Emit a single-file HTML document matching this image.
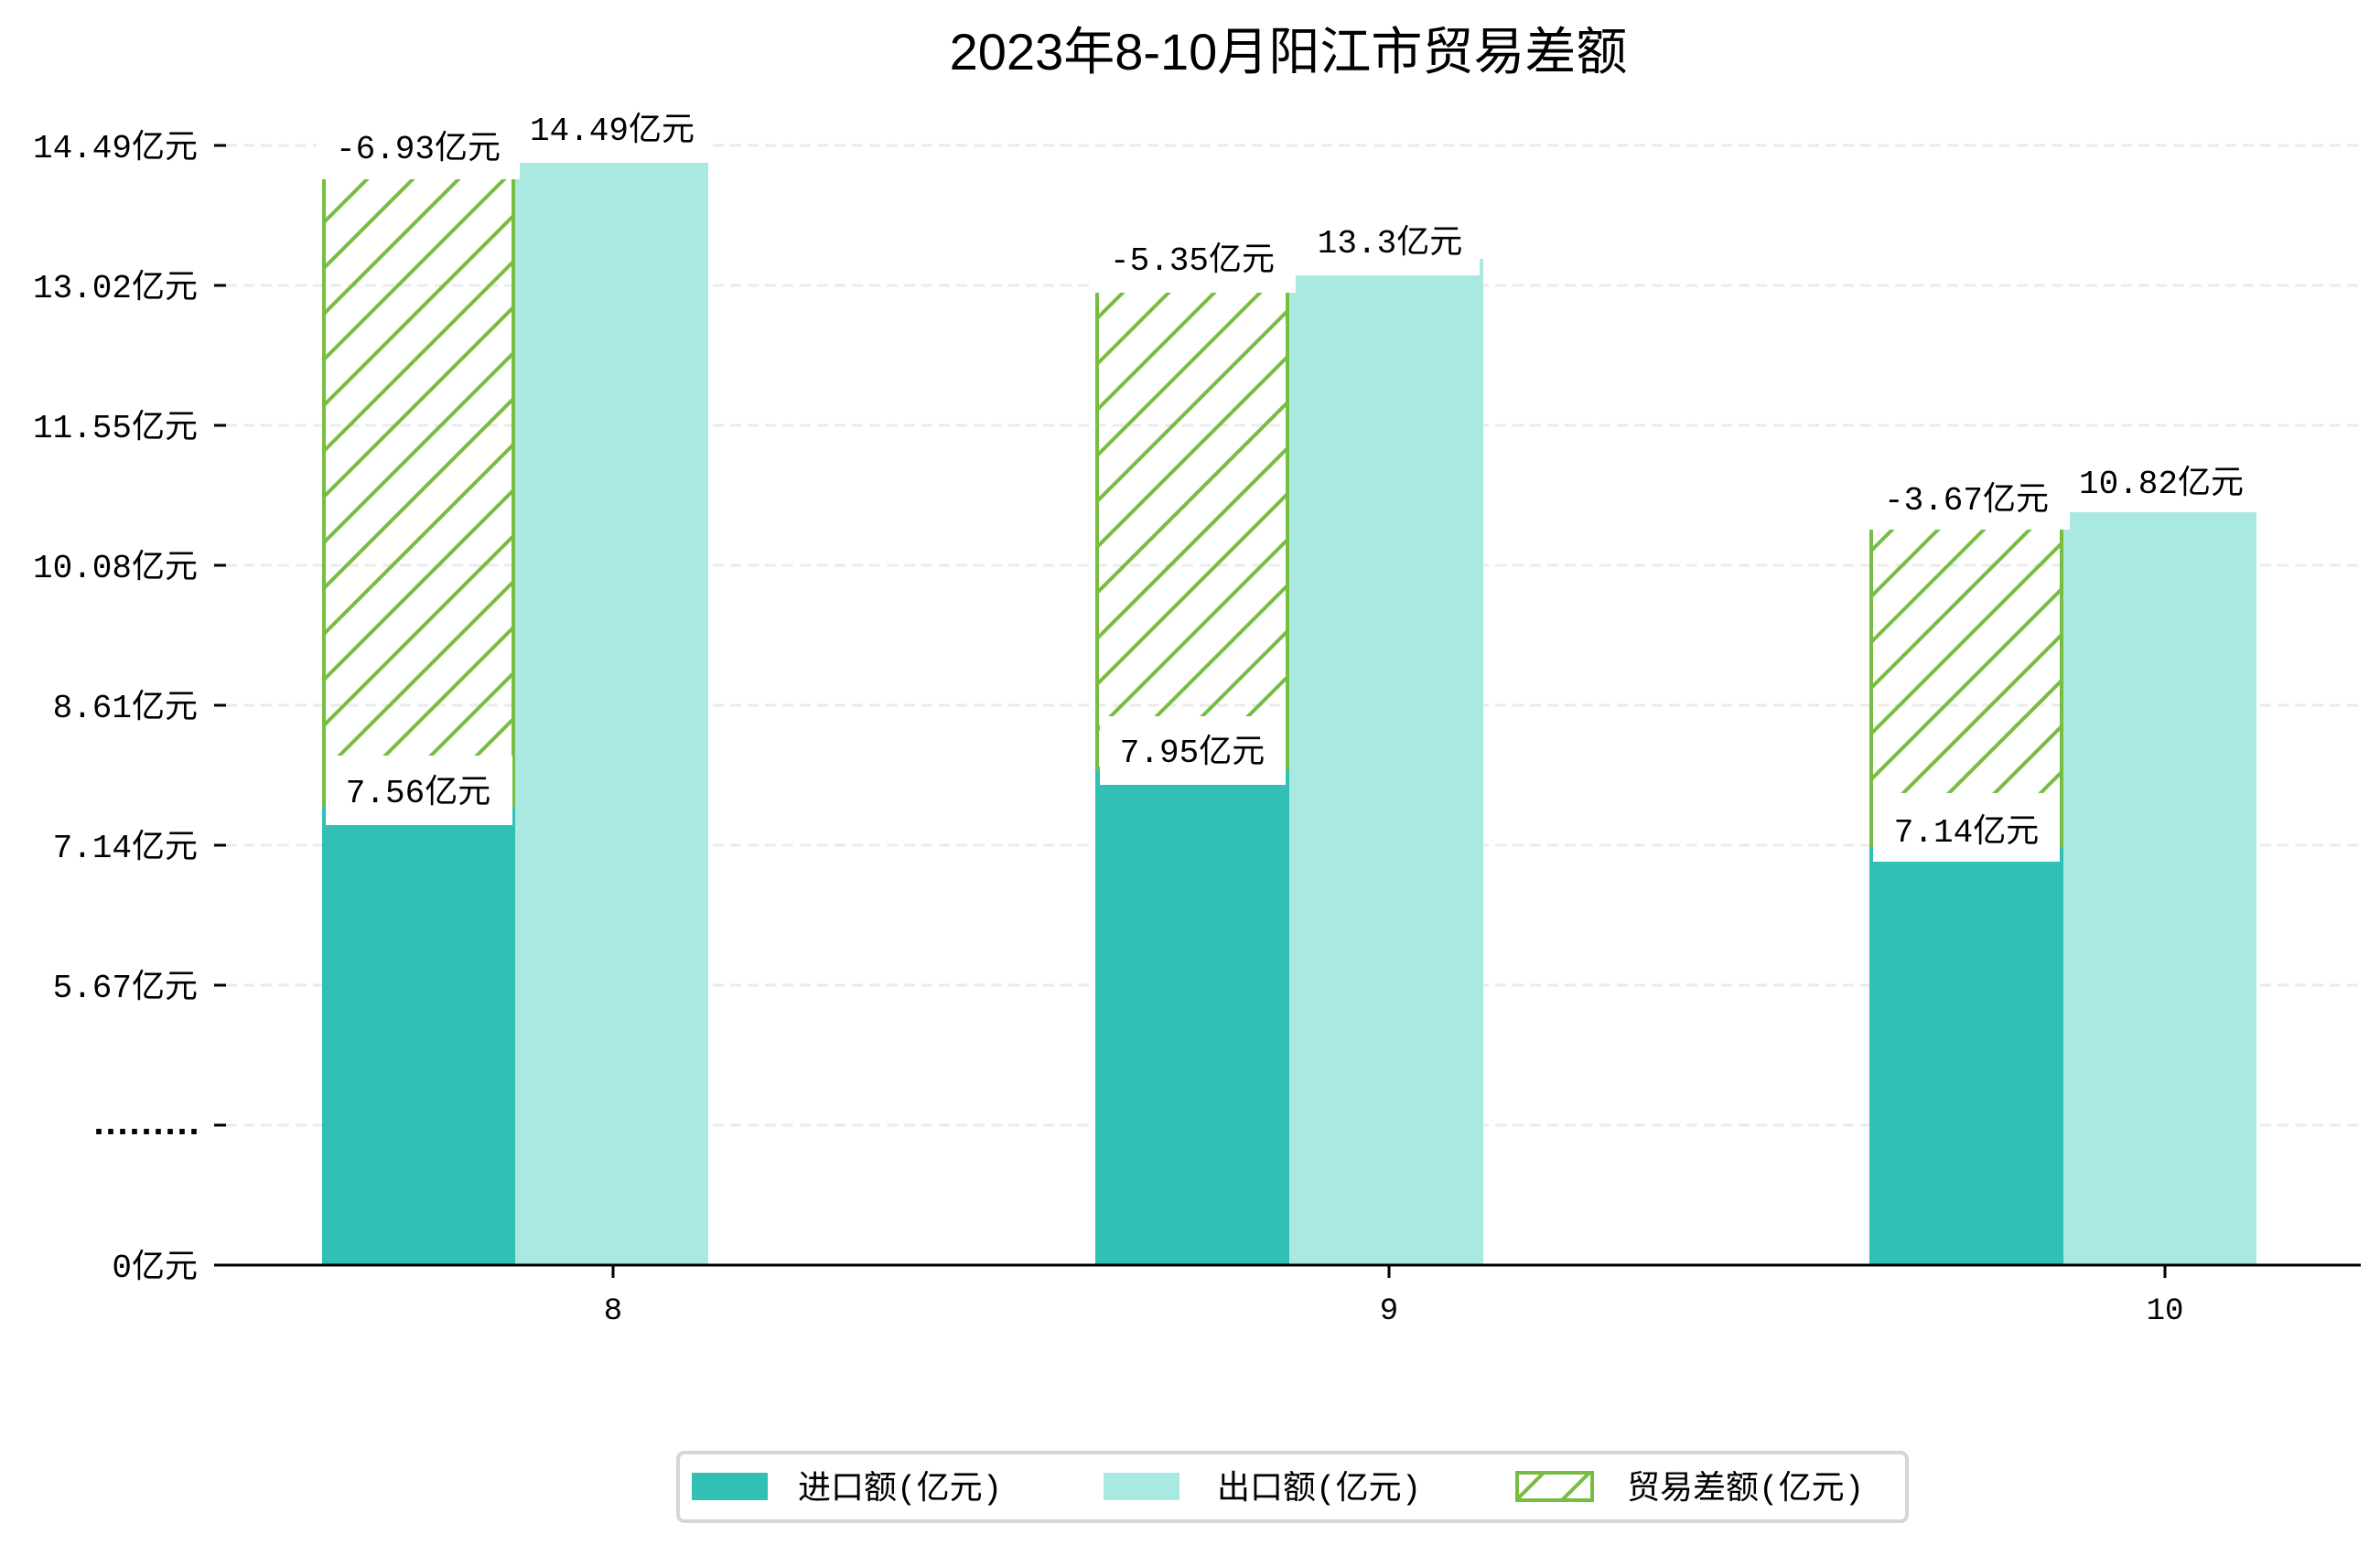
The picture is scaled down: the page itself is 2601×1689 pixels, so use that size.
<!DOCTYPE html>
<html><head><meta charset="utf-8"><style>
html,body{margin:0;padding:0;background:#fff;}
svg{display:block;}
text{font-family:"Liberation Mono","Noto Sans CJK SC",monospace;fill:#000;}
text.t{font-family:"Liberation Sans","Noto Sans CJK SC",sans-serif;}
</style></head><body>
<svg width="2601" height="1689" viewBox="0 0 2601 1689" xmlns="http://www.w3.org/2000/svg">
<defs>
<pattern id="h" patternUnits="userSpaceOnUse" width="50" height="50" x="-3" y="0">
<line x1="-5" y1="55" x2="55" y2="-5" stroke="#77bd42" stroke-width="4"/>
<line x1="-30" y1="30" x2="30" y2="-30" stroke="#77bd42" stroke-width="4"/>
<line x1="20" y1="80" x2="80" y2="20" stroke="#77bd42" stroke-width="4"/>
</pattern>
</defs>
<text class="t" x="1408" y="76" font-size="56" text-anchor="middle">2023年8-10月阳江市贸易差额</text>
<g stroke="#ebebeb" stroke-width="3" stroke-dasharray="12 7">
<line x1="247" y1="159" x2="2580" y2="159"/>
<line x1="247" y1="312" x2="2580" y2="312"/>
<line x1="247" y1="465" x2="2580" y2="465"/>
<line x1="247" y1="618" x2="2580" y2="618"/>
<line x1="247" y1="771" x2="2580" y2="771"/>
<line x1="247" y1="924" x2="2580" y2="924"/>
<line x1="247" y1="1077" x2="2580" y2="1077"/>
<line x1="247" y1="1230" x2="2580" y2="1230"/>
</g>
<g stroke="#000" stroke-width="3">
<line x1="234" y1="159" x2="247" y2="159"/>
<line x1="234" y1="312" x2="247" y2="312"/>
<line x1="234" y1="465" x2="247" y2="465"/>
<line x1="234" y1="618" x2="247" y2="618"/>
<line x1="234" y1="771" x2="247" y2="771"/>
<line x1="234" y1="924" x2="247" y2="924"/>
<line x1="234" y1="1077" x2="247" y2="1077"/>
<line x1="234" y1="1230" x2="247" y2="1230"/>
<line x1="234" y1="1383" x2="247" y2="1383"/>
</g>
<g font-size="36" text-anchor="end">
<text x="216" y="172">14.49亿元</text>
<text x="216" y="325">13.02亿元</text>
<text x="216" y="478">11.55亿元</text>
<text x="216" y="631">10.08亿元</text>
<text x="216" y="784">8.61亿元</text>
<text x="216" y="937">7.14亿元</text>
<text x="216" y="1090">5.67亿元</text>
<text x="96" y="1240" text-anchor="start" font-weight="bold" font-size="40" letter-spacing="-11">.........</text>
<text x="216" y="1396">0亿元</text>
</g>
<g>
<rect x="352" y="880" width="211" height="502" fill="#31c0b3"/>
<rect x="563" y="158" width="211" height="1224" fill="#aae8e2"/>
<rect x="354" y="159" width="207" height="721" fill="url(#h)" stroke="#77bd42" stroke-width="4"/>
<rect x="1197" y="840" width="212" height="542" fill="#31c0b3"/>
<rect x="1409" y="283" width="212" height="1099" fill="#aae8e2"/>
<rect x="1199" y="283" width="208" height="557" fill="url(#h)" stroke="#77bd42" stroke-width="4"/>
<rect x="2043" y="924" width="212" height="458" fill="#31c0b3"/>
<rect x="2255" y="540" width="211" height="842" fill="#aae8e2"/>
<rect x="2045" y="541" width="208" height="383" fill="url(#h)" stroke="#77bd42" stroke-width="4"/>
</g>
<g fill="#fff">
<rect x="346" y="122" width="222" height="74"/>
<rect x="567" y="100" width="210" height="78"/>
<rect x="356" y="826" width="204" height="76"/>
<rect x="1190" y="245" width="226" height="75"/>
<rect x="1416" y="226" width="201" height="75"/>
<rect x="1202" y="783" width="203" height="75"/>
<rect x="2036" y="505" width="226" height="74"/>
<rect x="2258" y="484" width="212" height="76"/>
<rect x="2047" y="867" width="204" height="75"/>
</g>
<g font-size="36" text-anchor="middle">
<text x="457" y="173">-6.93亿元</text>
<text x="669" y="153">14.49亿元</text>
<text x="457" y="877">7.56亿元</text>
<text x="1303" y="295">-5.35亿元</text>
<text x="1519" y="276">13.3亿元</text>
<text x="1303" y="833">7.95亿元</text>
<text x="2149" y="557">-3.67亿元</text>
<text x="2362" y="539">10.82亿元</text>
<text x="2149" y="920">7.14亿元</text>
</g>
<line x1="238" y1="1383" x2="2580" y2="1383" stroke="#000" stroke-width="3"/>
<g stroke="#000" stroke-width="3">
<line x1="670" y1="1383" x2="670" y2="1397"/>
<line x1="1518" y1="1383" x2="1518" y2="1397"/>
<line x1="2366" y1="1383" x2="2366" y2="1397"/>
</g>
<g font-size="34" text-anchor="middle">
<text x="670" y="1442">8</text>
<text x="1518" y="1442">9</text>
<text x="2366" y="1442">10</text>
</g>
<rect x="741" y="1588" width="1343" height="75" rx="7" fill="#fff" stroke="#d6d6d6" stroke-width="4"/>
<rect x="756" y="1610" width="83" height="30" fill="#31c0b3"/>
<rect x="1206" y="1610" width="83" height="30" fill="#aae8e2"/>
<rect x="1658" y="1610" width="82" height="30" fill="url(#h)" stroke="#77bd42" stroke-width="4"/>
<g font-size="36">
<text x="872" y="1638">进口额(亿元)</text>
<text x="1330" y="1638">出口额(亿元)</text>
<text x="1778" y="1638">贸易差额(亿元)</text>
</g>
</svg>
</body></html>
